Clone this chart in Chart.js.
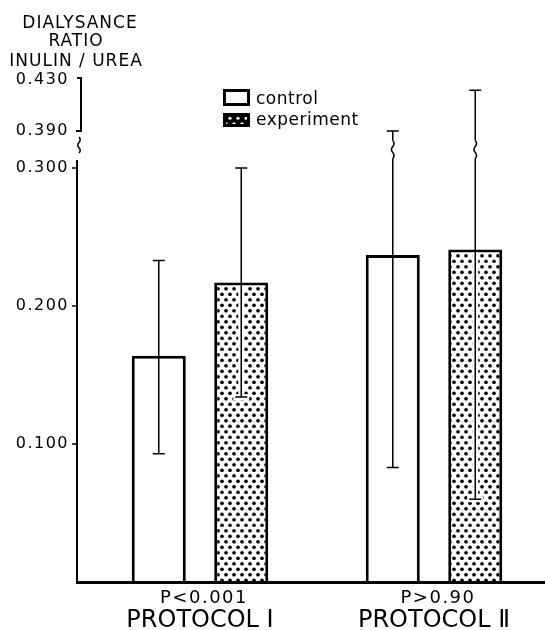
<!DOCTYPE html>
<html>
<head>
<meta charset="utf-8">
<script src="https://cdn.jsdelivr.net/npm/chart.js@4/dist/chart.umd.min.js"></script>
<style>
html,body{margin:0;padding:0;background:#fff;}
#wrap{width:545px;height:630px;position:relative;}
</style>
</head>
<body>
<div id="wrap"><canvas id="c" width="545" height="630"></canvas></div>
<script>
// ---- data ----
const categories = ['PROTOCOL Ⅰ', 'PROTOCOL Ⅱ'];
const pLabels = ['P<0.001', 'P>0.90'];
const seriesNames = ['control', 'experiment'];
const controlMean = [0.164, 0.237];
const controlLow = [0.093, 0.083];
const controlHigh = [0.233, 0.390];
const experimentMean = [0.217, 0.241];
const experimentLow = [0.134, 0.060];
const experimentHigh = [0.300, 0.422];
const tickValues = [0.100, 0.200, 0.300, 0.390, 0.430];
const titleLines = ['DIALYSANCE', 'RATIO', 'INULIN / UREA'];

// ---- broken axis mapping ----
const BREAK_LO = 0.300, BREAK_HI = 0.390, GAP = 0.0268, UPPER = 0.925;
function toAxis(v) {
  if (v <= BREAK_LO) return v;
  if (v < BREAK_HI) return BREAK_LO + (v - BREAK_LO) / (BREAK_HI - BREAK_LO) * GAP;
  return BREAK_LO + GAP + (v - BREAK_HI) * UPPER;
}
const FONT = "'DejaVu Sans', sans-serif";

function makePattern(inverse) {
  const c = document.createElement('canvas');
  c.width = 8; c.height = 11;
  const g = c.getContext('2d');
  g.fillStyle = inverse ? '#000' : '#fff';
  g.fillRect(0, 0, 8, 11);
  g.fillStyle = inverse ? '#fff' : '#000';
  [[2, 2.75], [6, 8.25]].forEach(([x, y]) => {
    g.beginPath(); g.arc(x, y, inverse ? 1.6 : 1.85, 0, Math.PI * 2); g.fill();
  });
  return g.createPattern(c, 'repeat');
}
const dotPattern = makePattern(false);
const legendPattern = makePattern(true);

function squiggle(ctx, x, y0, y1, amp) {
  const n = 3, h = (y1 - y0) / n;
  ctx.beginPath();
  ctx.moveTo(x, y0);
  for (let i = 0; i < n; i++) {
    const s = i % 2 ? -1 : 1;
    ctx.quadraticCurveTo(x + amp * s * 2, y0 + h * (i + 0.5), x, y0 + h * (i + 1));
  }
  ctx.stroke();
}

const lows = [controlLow, experimentLow];
const highs = [controlHigh, experimentHigh];

const decor = {
  id: 'decor',
  afterLayout(chart) {
    // x axis runs on past the right edge of the page, as in the original
    const s = chart.scales.x;
    s.right = s.left + 468;
    s.width = 468;
    s.configure();
  },
  beforeDraw(chart) { chart.ctx.letterSpacing = '1.5px'; },
  beforeDatasetsDraw(chart) { chart.ctx.letterSpacing = '0px'; },
  afterDatasetsDraw(chart) {
    const ctx = chart.ctx, y = chart.scales.y;
    const yBrkLo = y.getPixelForValue(toAxis(BREAK_LO));
    const yBrkHi = y.getPixelForValue(toAxis(BREAK_HI));
    const brkMid = (yBrkLo + yBrkHi) / 2;
    ctx.save();
    chart.data.datasets.forEach((ds, di) => {
      const meta = chart.getDatasetMeta(di);
      meta.data.forEach((bar, i) => {
        const x = bar.x;
        const yh = y.getPixelForValue(toAxis(highs[di][i]));
        const yl = y.getPixelForValue(toAxis(lows[di][i]));
        if (di === 1) {
          ctx.fillStyle = '#fff';
          const top = Math.max(bar.y + 3, yh);
          ctx.fillRect(x - 3, top, 6, yl - top);
          ctx.fillRect(x - 8, yl - 3, 16, 6);
        }
        ctx.strokeStyle = '#000';
        ctx.lineWidth = 1.5;
        const crossesBreak = highs[di][i] > BREAK_LO + 0.01;
        ctx.beginPath();
        if (crossesBreak) {
          ctx.moveTo(x, yh); ctx.lineTo(x, brkMid - 9);
          ctx.moveTo(x, brkMid + 9); ctx.lineTo(x, yl);
        } else {
          ctx.moveTo(x, yh); ctx.lineTo(x, yl);
        }
        ctx.moveTo(x - 6, yh); ctx.lineTo(x + 6, yh);
        ctx.moveTo(x - 6, yl); ctx.lineTo(x + 6, yl);
        ctx.stroke();
        if (crossesBreak) squiggle(ctx, x, brkMid - 9, brkMid + 9, 1.3);
      });
    });
    ctx.restore();
  },
  afterDraw(chart) {
    const ctx = chart.ctx, y = chart.scales.y, x = chart.scales.x, area = chart.chartArea;
    ctx.save();
    ctx.strokeStyle = '#000';
    ctx.fillStyle = '#000';
    const ax = 77;
    const y03 = y.getPixelForValue(toAxis(0.300));
    const y39 = y.getPixelForValue(toAxis(0.390));
    const y43 = y.getPixelForValue(toAxis(0.430));
    // lower axis
    ctx.lineWidth = 2;
    ctx.beginPath(); ctx.moveTo(ax, y03 - 8); ctx.lineTo(ax, area.bottom + 1); ctx.stroke();
    ctx.lineWidth = 1.5;
    ctx.beginPath();
    [0.1, 0.2, 0.3].forEach(v => {
      const p = y.getPixelForValue(toAxis(v));
      ctx.moveTo(ax - 5, p); ctx.lineTo(ax, p);
    });
    ctx.stroke();
    // upper bracket
    ctx.lineWidth = 2;
    ctx.beginPath();
    ctx.moveTo(ax, y43 - 2); ctx.lineTo(ax + 4, y43 - 2); ctx.lineTo(ax + 4, y39); ctx.lineTo(ax - 1, y39);
    ctx.stroke();
    // axis break squiggle
    ctx.lineWidth = 1.5;
    squiggle(ctx, ax + 2, y39 + 6, y39 + 22, 1.2);
    // baseline
    ctx.lineWidth = 3;
    ctx.beginPath(); ctx.moveTo(ax - 1, area.bottom + 0.5); ctx.lineTo(545, area.bottom + 0.5); ctx.stroke();

    // title
    ctx.letterSpacing = '1px';
    ctx.font = '17px ' + FONT;
    ctx.textAlign = 'center';
    ctx.textBaseline = 'alphabetic';
    const tb = [28, 46, 66];
    const tx = [80, 76, 76];
    titleLines.forEach((t, i) => ctx.fillText(t, tx[i], tb[i]));

    // legend
    ctx.lineWidth = 3;
    ctx.fillStyle = '#fff';
    ctx.fillRect(224.5, 90.5, 24, 14);
    ctx.strokeRect(224.5, 90.5, 24, 14);
    ctx.fillStyle = legendPattern;
    ctx.fillRect(223, 113, 27, 14);
    ctx.strokeRect(224.5, 114.5, 24, 11);
    ctx.fillStyle = '#000';
    ctx.letterSpacing = '0.5px';
    ctx.textAlign = 'left';
    ctx.font = '17px ' + FONT;
    ctx.fillText(chart.data.datasets[0].label, 256, 104);
    ctx.fillText(chart.data.datasets[1].label, 256, 125);

    // P values under each group
    ctx.letterSpacing = '1.5px';
    ctx.font = '18px ' + FONT;
    ctx.textAlign = 'center';
    pLabels.forEach((t, i) => ctx.fillText(t, x.getPixelForValue(i) + 4, 603));
    ctx.restore();
    chart.ctx.letterSpacing = '0px';
  }
};

new Chart(document.getElementById('c'), {
  type: 'bar',
  data: {
    labels: categories,
    datasets: [
      {
        label: seriesNames[0],
        data: controlMean.map(toAxis),
        backgroundColor: '#fff',
        borderColor: '#000',
        borderWidth: 3,
        borderSkipped: 'bottom',
        categoryPercentage: 0.705,
        barPercentage: 0.655
      },
      {
        label: seriesNames[1],
        data: experimentMean.map(toAxis),
        backgroundColor: dotPattern,
        borderColor: '#000',
        borderWidth: 3,
        borderSkipped: 'bottom',
        categoryPercentage: 0.705,
        barPercentage: 0.655
      }
    ]
  },
  options: {
    responsive: false,
    animation: false,
    devicePixelRatio: 1,
    layout: { padding: { top: 80, left: 0, right: 0, bottom: 0 } },
    plugins: { legend: { display: false }, tooltip: { enabled: false }, title: { display: false } },
    scales: {
      x: {
        grid: { display: false, drawTicks: false },
        border: { display: false },
        ticks: { font: { family: FONT, size: 24 }, color: '#000', padding: 24, maxRotation: 0, z: 1 },
        afterFit(s) { s.height = 48; }
      },
      y: {
        min: 0,
        max: toAxis(0.430),
        grid: { display: false, drawTicks: false },
        border: { display: false },
        afterBuildTicks(s) { s.ticks = tickValues.map(v => ({ value: toAxis(v) })); },
        ticks: {
          font: { family: FONT, size: 16 },
          color: '#000',
          padding: 14,
          callback: (val, i) => tickValues[i].toFixed(3)
        },
        afterFit(s) { s.width = 83; }
      }
    }
  },
  plugins: [decor]
});
</script>
</body>
</html>
